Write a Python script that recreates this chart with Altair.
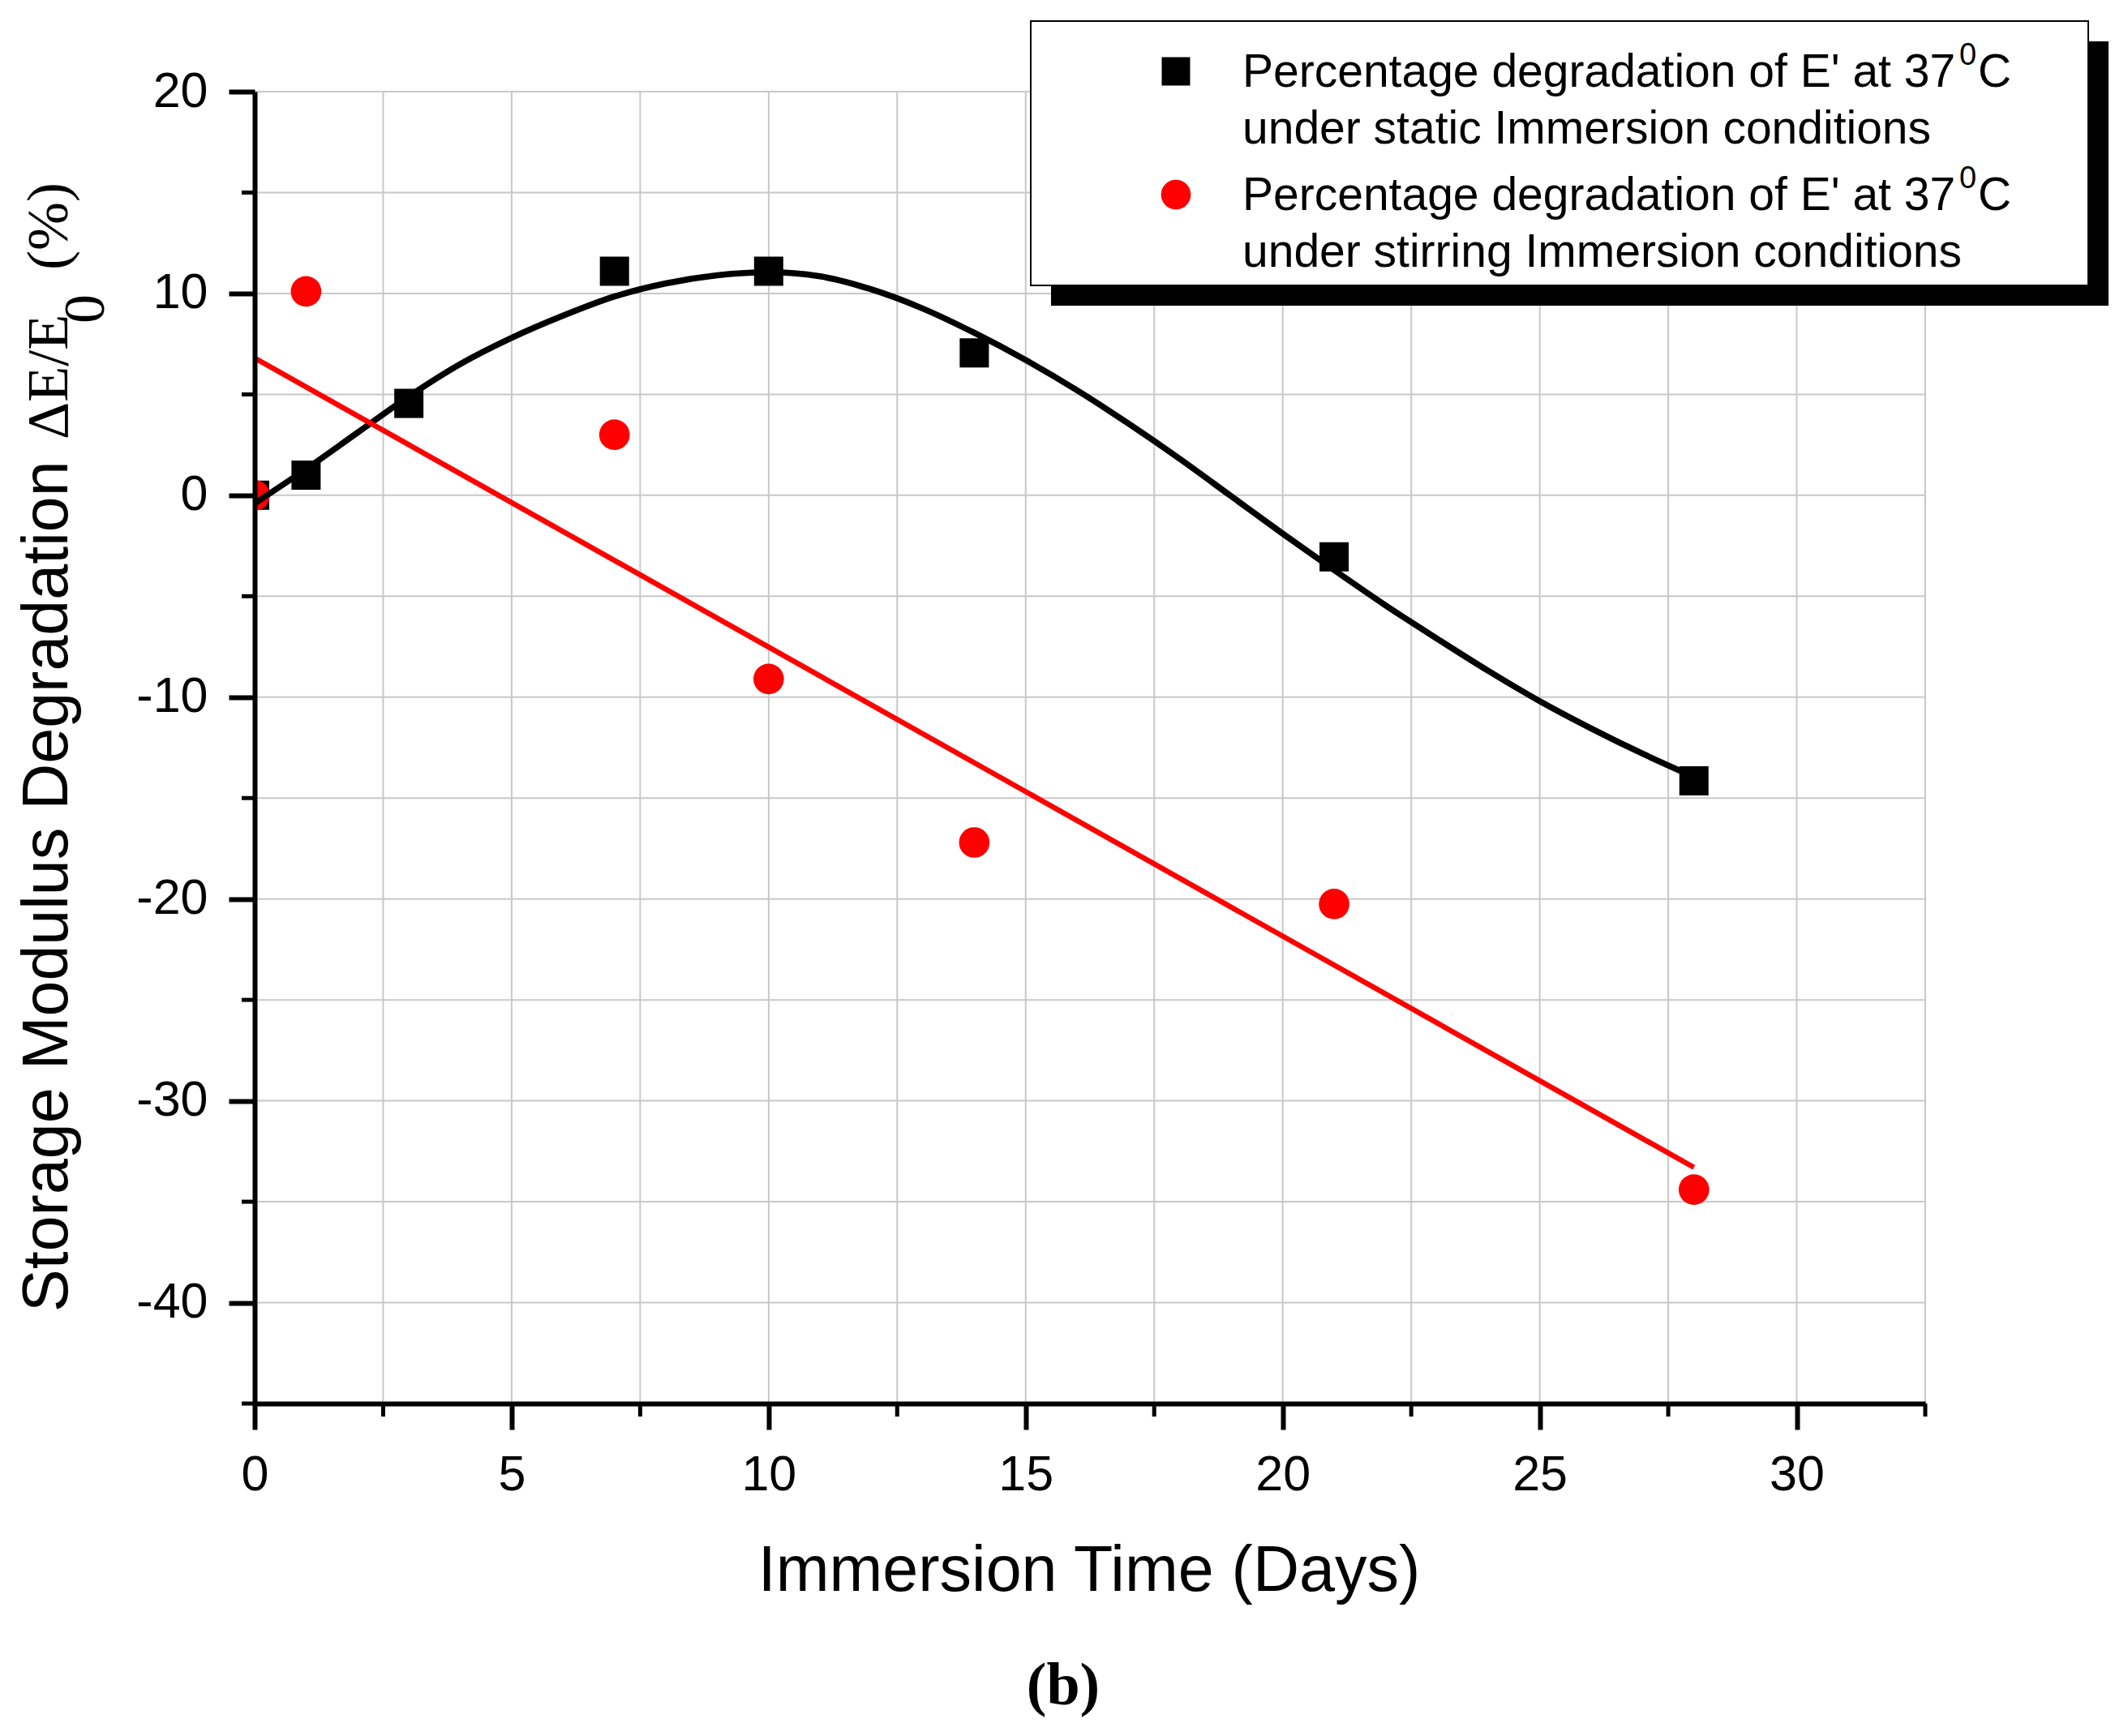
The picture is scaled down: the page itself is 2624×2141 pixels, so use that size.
import altair as alt
import pandas as pd

# ---------------- data ----------------
days_static = [0, 1, 3, 7, 10, 14, 21, 28]
deg_static = [0.0, 1.0, 4.55, 11.1, 11.1, 7.05, -3.05, -14.15]

days_stir = [0, 1, 7, 10, 14, 21, 28]
deg_stir = [0.0, 10.1, 3.0, -9.1, -17.2, -20.25, -34.4]

# fitted curve for static immersion
fit_static_x = [0, 1, 2, 3, 4, 5, 6, 7, 8, 9, 10, 11, 12, 13, 14, 15, 16, 17, 18, 19,
                20, 21, 22, 23, 24, 25, 26, 27, 28]
fit_static_y = [-0.4, 1.3, 3.1, 4.9, 6.5, 7.8, 8.9, 9.85, 10.5, 10.9, 11.05, 10.85, 10.2,
                9.25, 8.05, 6.7, 5.2, 3.55, 1.8, -0.05, -1.9, -3.7, -5.45, -7.1, -8.7,
                -10.2, -11.55, -12.8, -13.95]

# linear fit for stirring immersion (end points)
fit_stir_x = [0, 28]
fit_stir_y = [6.8, -33.3]

x_major = [0, 5, 10, 15, 20, 25, 30]
x_minor = [2.5, 7.5, 12.5, 17.5, 22.5, 27.5, 32.5]
y_major = [-40, -30, -20, -10, 0, 10, 20]
y_minor = [-45, -35, -25, -15, -5, 5, 15]
x_grid = [2.5, 5, 7.5, 10, 12.5, 15, 17.5, 20, 22.5, 25, 27.5, 30, 32.5]
y_grid = [-40, -35, -30, -25, -20, -15, -10, -5, 0, 5, 10, 15, 20]

legend_static = ["Percentage degradation of E' at 37", "under static Immersion conditions"]
legend_stir = ["Percentage degradation of E' at 37", "under stirring Immersion conditions"]
x_title = "Immersion Time (Days)"
y_title_parts = ["Storage Modulus Degradation", "\u0394E/E", "0", "(%)"]
caption = "(b)"

# ---------------- layout ----------------
W, H = 2060, 1618
SANS = "Liberation Sans"
SERIF = "Liberation Serif"
GRID = "#c8c8c8"

xscale = alt.Scale(domain=[0, 32.5], nice=False, zero=False)
yscale = alt.Scale(domain=[-45, 20], nice=False, zero=False)

df_static = pd.DataFrame({"x": days_static, "y": deg_static})
df_stir = pd.DataFrame({"x": days_stir, "y": deg_stir})
df_fit_static = pd.DataFrame({"x": fit_static_x, "y": fit_static_y})
df_fit_stir = pd.DataFrame({"x": fit_stir_x, "y": fit_stir_y})
one = pd.DataFrame({"k": [0]})

label_expr = "datum.value < 0 ? '-' + abs(datum.value) : '' + datum.value"

x_axis = alt.Axis(values=x_major, title=None, grid=False, tickSize=32, tickWidth=6,
                  tickColor="black", domainColor="black", domainWidth=6,
                  labelFont=SANS, labelFontSize=61, labelColor="black",
                  labelPadding=26, labelFlush=False, labelOverlap=False,
                  labelExpr=label_expr, zindex=1)
y_axis = alt.Axis(values=y_major, title=None, grid=False, tickSize=32, tickWidth=6,
                  tickColor="black", domainColor="black", domainWidth=6,
                  labelFont=SANS, labelFontSize=61, labelColor="black",
                  labelPadding=26, labelFlush=False, labelOverlap=False,
                  labelExpr=label_expr, zindex=1)


def X(field="x"):
    return alt.X(f"{field}:Q", scale=xscale, axis=x_axis)


def Y(field="y"):
    return alt.Y(f"{field}:Q", scale=yscale, axis=y_axis)


grid_x = alt.Chart(pd.DataFrame({"x": x_grid})).mark_rule(color=GRID, strokeWidth=2).encode(x=X())
grid_y = alt.Chart(pd.DataFrame({"y": y_grid})).mark_rule(color=GRID, strokeWidth=2).encode(y=Y())

squares = alt.Chart(df_static).mark_point(shape="square", filled=True, size=1296,
                                          color="black", opacity=1, clip=True).encode(x=X(), y=Y())

circles = alt.Chart(df_stir).mark_point(shape="circle", filled=True, size=1420,
                                        color="#ff0000", opacity=1, clip=True).encode(x=X(), y=Y())

line_static = alt.Chart(df_fit_static).mark_line(color="black", strokeWidth=7.5,
                                                 interpolate="monotone", clip=True).encode(x=X(), y=Y())

line_stir = alt.Chart(df_fit_stir).mark_line(color="#ff0000", strokeWidth=6.5, clip=True).encode(
    x=X(), y=Y())

minor_x = alt.Chart(pd.DataFrame({"x": x_minor})).mark_rule(color="black", strokeWidth=5).encode(
    x=X(), y=alt.value(H), y2=alt.value(H + 16))
minor_y = alt.Chart(pd.DataFrame({"y": y_minor})).mark_rule(color="black", strokeWidth=5).encode(
    y=Y(), x=alt.value(-16), x2=alt.value(0))


def txt(s, x, y, size, font=SANS, align="left", angle=0, weight="normal"):
    return alt.Chart(one).mark_text(align=align, baseline="alphabetic", font=font,
                                    fontSize=size, fontWeight=weight, color="black",
                                    angle=angle).encode(
        x=alt.value(x), y=alt.value(y), text=alt.value(s))


# legend
shadow = alt.Chart(one).mark_rect(fill="black").encode(
    x=alt.value(982), x2=alt.value(2286), y=alt.value(-62), y2=alt.value(264))
box = alt.Chart(one).mark_rect(fill="white", stroke="black", strokeWidth=2).encode(
    x=alt.value(957), x2=alt.value(2261), y=alt.value(-87), y2=alt.value(239))
leg_sq = alt.Chart(one).mark_point(shape="square", filled=True, size=1225, color="black",
                                   opacity=1).encode(x=alt.value(1136), y=alt.value(-25))
leg_ci = alt.Chart(one).mark_point(shape="circle", filled=True, size=1350, color="#ff0000",
                                   opacity=1).encode(x=alt.value(1136), y=alt.value(127))

texts = [
    txt(legend_static[0], 1218, -6, 57),
    txt("0", 2102, -33, 38),
    txt("C", 2125, -6, 57),
    txt(legend_static[1], 1218, 64, 57),
    txt(legend_stir[0], 1218, 146, 57),
    txt("0", 2102, 119, 38),
    txt("C", 2125, 146, 57),
    txt(legend_stir[1], 1218, 216, 57),
    # axis titles
    txt(x_title, 1029, 1849, 79, align="center"),
    txt(y_title_parts[0], -231, 1505, 79, angle=270),
    txt(y_title_parts[1], -231, 429, 72, font=SERIF, angle=270),
    txt(y_title_parts[2], -186, 286, 72, font=SERIF, angle=270),
    txt(y_title_parts[3], -231, 220, 72, font=SERIF, angle=270),
    # caption
    txt(caption, 997, 1989, 74, font=SERIF, align="center", weight="bold"),
]

chart = alt.layer(
    grid_x, grid_y, squares, circles, line_static, line_stir, minor_x, minor_y,
    shadow, box, leg_sq, leg_ci, *texts
).properties(
    width=W, height=H,
    autosize=alt.AutoSizeParams(type="none"),
    padding={"left": 306, "top": 105, "right": 236, "bottom": 400},
    background="white",
).configure_view(stroke=None)

chart.save("out.html", embed_options={"renderer": "svg", "actions": False})
